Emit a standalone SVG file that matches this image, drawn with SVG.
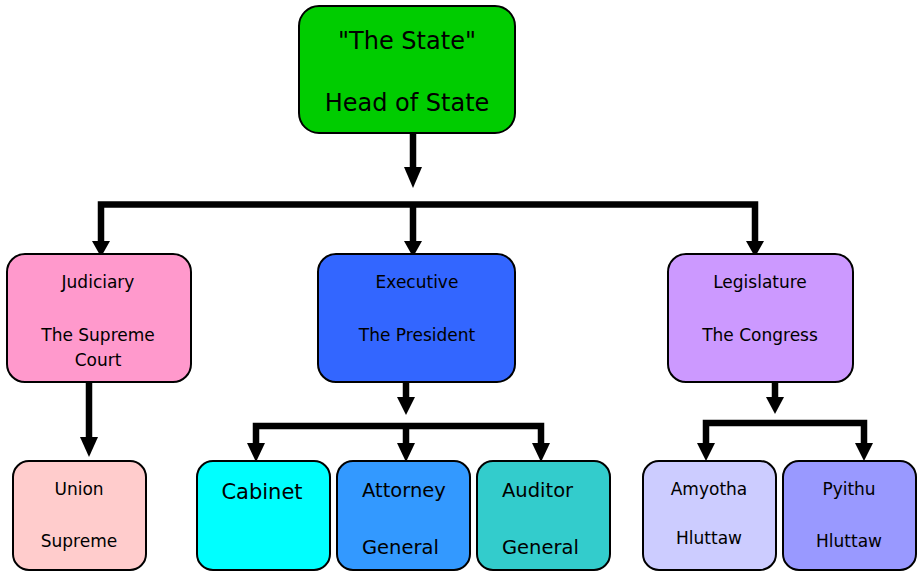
<svg xmlns="http://www.w3.org/2000/svg" width="917" height="571" viewBox="0 0 917 571">
<defs>
<style>
.box{stroke:#000;stroke-width:2}
.t{font-family:"DejaVu Sans","Verdana",sans-serif;fill:#000}
.s{font-size:17px}
.c{fill:none;stroke:#000;stroke-width:6.5;stroke-linejoin:miter}
.h{fill:#000}
</style>
</defs>
<rect width="917" height="571" fill="#fff"/>
<g id="connectors">
<path class="c" d="M413,133 V168"/>
<polygon class="h" points="404,167 422,167 413,188"/>
<path class="c" d="M101,243 V204.5 H755 V243"/>
<path class="c" d="M413,204.5 V243"/>
<polygon class="h" points="92,241 110,241 101,257"/>
<polygon class="h" points="404,241 422,241 413,257"/>
<polygon class="h" points="746,241 764,241 755,257"/>
<path class="c" d="M89,382 V438"/>
<polygon class="h" points="80,437 98,437 89,457"/>
<path class="c" d="M406,382 V398"/>
<polygon class="h" points="397,397 415,397 406,415"/>
<path class="c" d="M256,444 V426 H541 V444"/>
<path class="c" d="M406,426 V444"/>
<polygon class="h" points="247,443 265,443 256,462"/>
<polygon class="h" points="397,443 415,443 406,462"/>
<polygon class="h" points="532,443 550,443 541,462"/>
<path class="c" d="M775,382 V398"/>
<polygon class="h" points="766,397 784,397 775,414"/>
<path class="c" d="M706,444 V423 H864 V444"/>
<polygon class="h" points="697,443 715,443 706,461"/>
<polygon class="h" points="855,443 873,443 864,461"/>
</g>
<g id="state">
<rect class="box" x="299" y="6" width="216" height="127" rx="20" fill="#00CC00"/>
<text class="t" x="407" y="49" font-size="24" text-anchor="middle">"The State"</text>
<text class="t" x="407" y="111" font-size="24" text-anchor="middle">Head of State</text>
</g>
<g id="judiciary">
<rect class="box" x="7" y="254" width="184" height="128" rx="18" fill="#FF99CC"/>
<text class="t s" x="98" y="288" text-anchor="middle">Judiciary</text>
<text class="t s" x="98" y="341" text-anchor="middle">The Supreme</text>
<text class="t s" x="98" y="366" text-anchor="middle">Court</text>
</g>
<g id="executive">
<rect class="box" x="318" y="254" width="197" height="128" rx="18" fill="#3366FF"/>
<text class="t s" x="417" y="288" text-anchor="middle">Executive</text>
<text class="t s" x="417" y="341" text-anchor="middle">The President</text>
</g>
<g id="legislature">
<rect class="box" x="668" y="254" width="185" height="128" rx="18" fill="#CC99FF"/>
<text class="t s" x="760" y="288" text-anchor="middle">Legislature</text>
<text class="t s" x="760" y="341" text-anchor="middle">The Congress</text>
</g>
<g id="union-supreme">
<rect class="box" x="13" y="461" width="133" height="109" rx="16" fill="#FFCCCC"/>
<text class="t s" x="79" y="495" text-anchor="middle">Union</text>
<text class="t s" x="79" y="547" text-anchor="middle">Supreme</text>
</g>
<g id="cabinet">
<rect class="box" x="197" y="461" width="133" height="109" rx="16" fill="#00FFFF"/>
<text class="t" x="262" y="499" font-size="21" text-anchor="middle">Cabinet</text>
</g>
<g id="attorney-general">
<rect class="box" x="337" y="461" width="133" height="109" rx="16" fill="#3399FF"/>
<text class="t" x="362" y="497" font-size="19.5">Attorney</text>
<text class="t" x="362" y="554" font-size="19.5">General</text>
</g>
<g id="auditor-general">
<rect class="box" x="477" y="461" width="133" height="109" rx="16" fill="#33CCCC"/>
<text class="t" x="502" y="497" font-size="19.5">Auditor</text>
<text class="t" x="502" y="554" font-size="19.5">General</text>
</g>
<g id="amyotha">
<rect class="box" x="643" y="461" width="133" height="109" rx="16" fill="#CCCCFF"/>
<text class="t s" x="709" y="495" text-anchor="middle">Amyotha</text>
<text class="t s" x="709" y="544" text-anchor="middle">Hluttaw</text>
</g>
<g id="pyithu">
<rect class="box" x="783" y="461" width="133" height="109" rx="16" fill="#9999FF"/>
<text class="t s" x="849" y="495" text-anchor="middle">Pyithu</text>
<text class="t s" x="849" y="547" text-anchor="middle">Hluttaw</text>
</g>
</svg>
